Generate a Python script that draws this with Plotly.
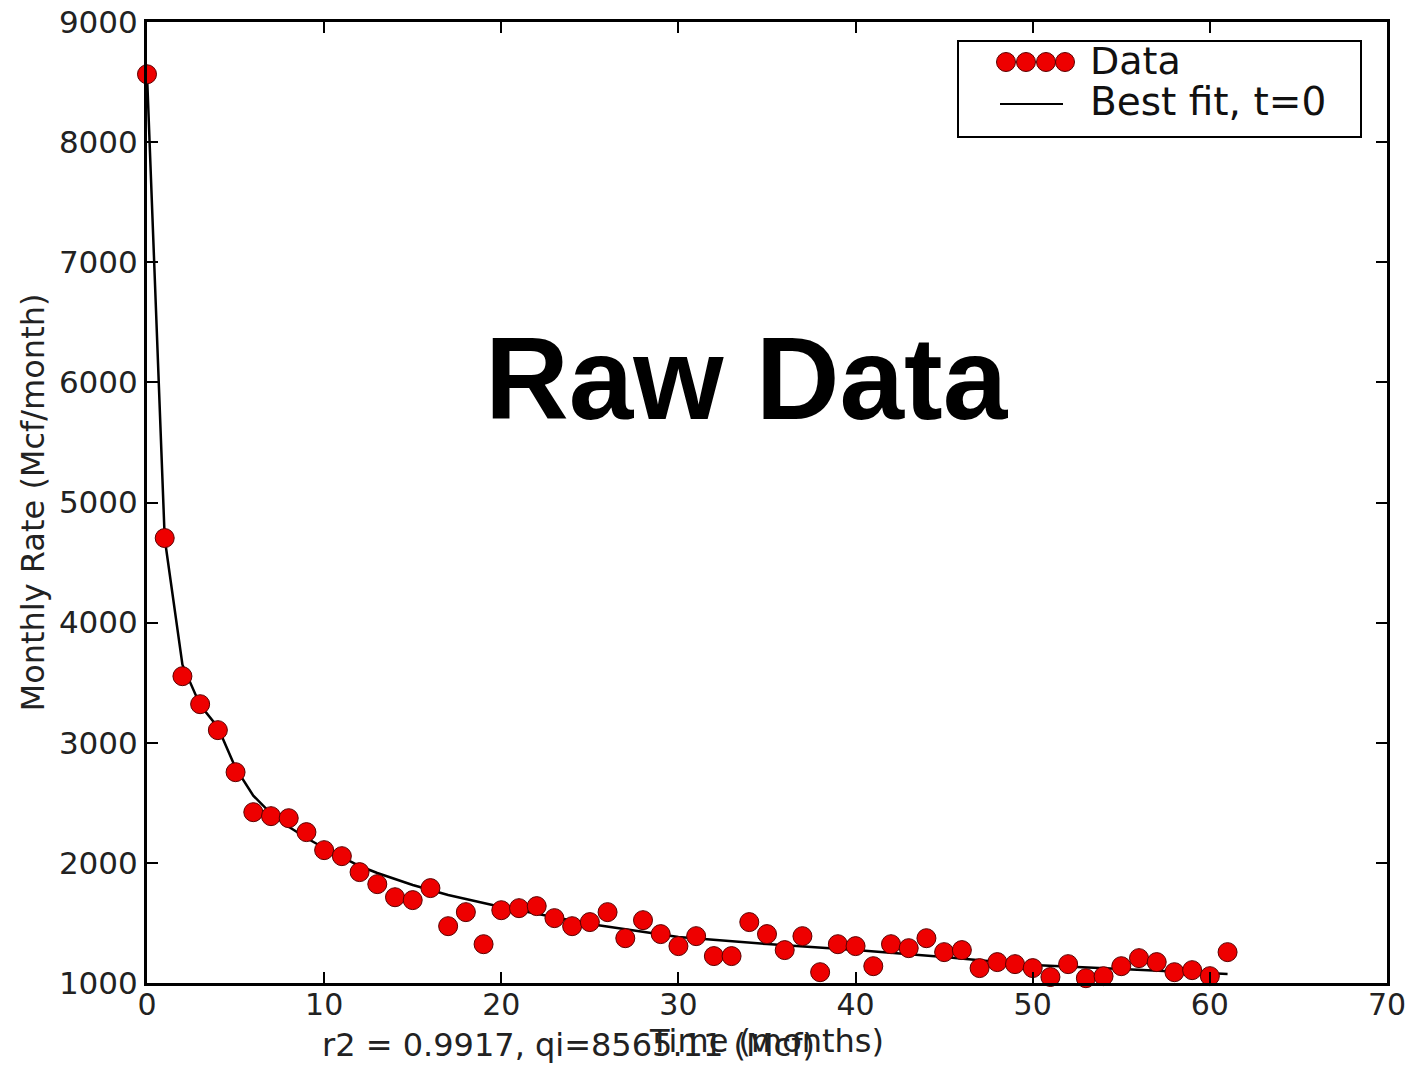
import plotly.graph_objects as go

months = list(range(62))
rate = [8565, 4704, 3554, 3321, 3105, 2755, 2422, 2389, 2372, 2256,
        2106, 2056, 1923, 1823, 1714, 1690, 1790, 1473, 1590, 1323,
        1606, 1623, 1640, 1540, 1473, 1507, 1590, 1373, 1523, 1407,
        1307, 1390, 1224, 1224, 1507, 1407, 1274, 1390, 1090, 1323,
        1307, 1140, 1323, 1290, 1373, 1257, 1274, 1124, 1174, 1157,
        1124, 1050, 1157, 1040, 1057, 1140, 1207, 1174, 1090, 1107,
        1057, 1257]

fit_t = [0, 1, 2, 3, 4, 5, 6, 7, 8, 9, 10, 11, 12, 13, 14, 15, 16, 17, 18, 19, 20,
         25, 30, 35, 40, 45, 50, 55, 61]
fit_q = [8565, 4700, 3650, 3313, 3130, 2790, 2560, 2410, 2300, 2207, 2124, 2049,
         1974, 1916, 1866, 1816, 1774, 1733, 1700, 1666, 1633,
         1491, 1383, 1324, 1274, 1216, 1150, 1116, 1075]

x_ticks = [0, 10, 20, 30, 40, 50, 60, 70]
y_ticks = [1000, 2000, 3000, 4000, 5000, 6000, 7000, 8000, 9000]

# plot-area pixel geometry
L, R, T, B = 147, 1387, 22, 983
W, H = R - L, B - T


def px(x):
    return (x - L) / W


def py(y):
    return (B - y) / H


fig = go.Figure()
fig.add_trace(go.Scatter(x=fit_t, y=fit_q, mode="lines", name="Best fit, t=0",
                         line=dict(color="black", width=2.5), showlegend=False))
fig.add_trace(go.Scatter(x=months, y=rate, mode="markers", name="Data",
                         marker=dict(color="#ee0000", size=19,
                                     line=dict(color="#5a0000", width=1)),
                         showlegend=False, cliponaxis=False))

font_main = "DejaVu Sans"
axis_common = dict(showline=True, linecolor="black", linewidth=3, mirror="ticks",
                   ticks="inside", ticklen=11, tickwidth=1.5, tickcolor="black",
                   showgrid=False, zeroline=False, automargin=False)

fig.update_xaxes(range=[0, 70], tickvals=x_ticks, ticktext=[str(v) for v in x_ticks],
                 tickfont=dict(family=font_main, size=30, color="#222"),
                 ticklabelstandoff=-7,
                 title=dict(text="Time (months)", font=dict(family=font_main, size=32, color="#222"),
                            standoff=8),
                 **axis_common)
fig.update_yaxes(range=[1000, 9000], tickvals=y_ticks, ticktext=[str(v) for v in y_ticks],
                 tickfont=dict(family=font_main, size=31, color="#222"),
                 title=dict(text="Monthly Rate (Mcf/month)", font=dict(family=font_main, size=32, color="#222"),
                            standoff=5),
                 **axis_common)

# manual legend (matplotlib style, four scatter points)
shapes = [dict(type="rect", xref="paper", yref="paper",
               x0=px(958), x1=px(1361), y0=py(137), y1=py(41),
               line=dict(color="black", width=2), fillcolor="white", layer="above")]
for cx in [1006, 1026, 1046, 1065]:
    r = 9.5
    shapes.append(dict(type="circle", xref="paper", yref="paper",
                       x0=px(cx - r), x1=px(cx + r), y0=py(62 + r), y1=py(62 - r),
                       fillcolor="#ee0000", line=dict(color="#5a0000", width=1), layer="above"))
shapes.append(dict(type="line", xref="paper", yref="paper",
                   x0=px(1000), x1=px(1063), y0=py(104), y1=py(104),
                   line=dict(color="black", width=2), layer="above"))

annotations = [
    dict(text="Data", xref="paper", yref="paper", x=px(1088), y=py(61),
         xanchor="left", yanchor="middle", showarrow=False,
         font=dict(family=font_main, size=38, color="#111")),
    dict(text="Best fit, t=0", xref="paper", yref="paper", x=px(1088), y=py(102),
         xanchor="left", yanchor="middle", showarrow=False,
         font=dict(family=font_main, size=39, color="#111")),
    dict(text="<b>Raw Data</b>", xref="paper", yref="paper", x=px(747), y=py(379),
         xanchor="center", yanchor="middle", showarrow=False,
         font=dict(family="Liberation Sans", size=116, color="black")),
    dict(text="r2 = 0.9917, qi=8565.11 (Mcf)", xref="paper", yref="paper",
         x=px(320), y=py(1045), xanchor="left", yanchor="middle",
         showarrow=False, font=dict(family=font_main, size=32, color="#222")),
]

fig.update_layout(width=1410, height=1070,
                  margin=dict(l=L, r=1410 - R, t=T, b=1070 - B, autoexpand=False),
                  plot_bgcolor="white", paper_bgcolor="white",
                  shapes=shapes, annotations=annotations, showlegend=False)

fig.write_html("out.html")
